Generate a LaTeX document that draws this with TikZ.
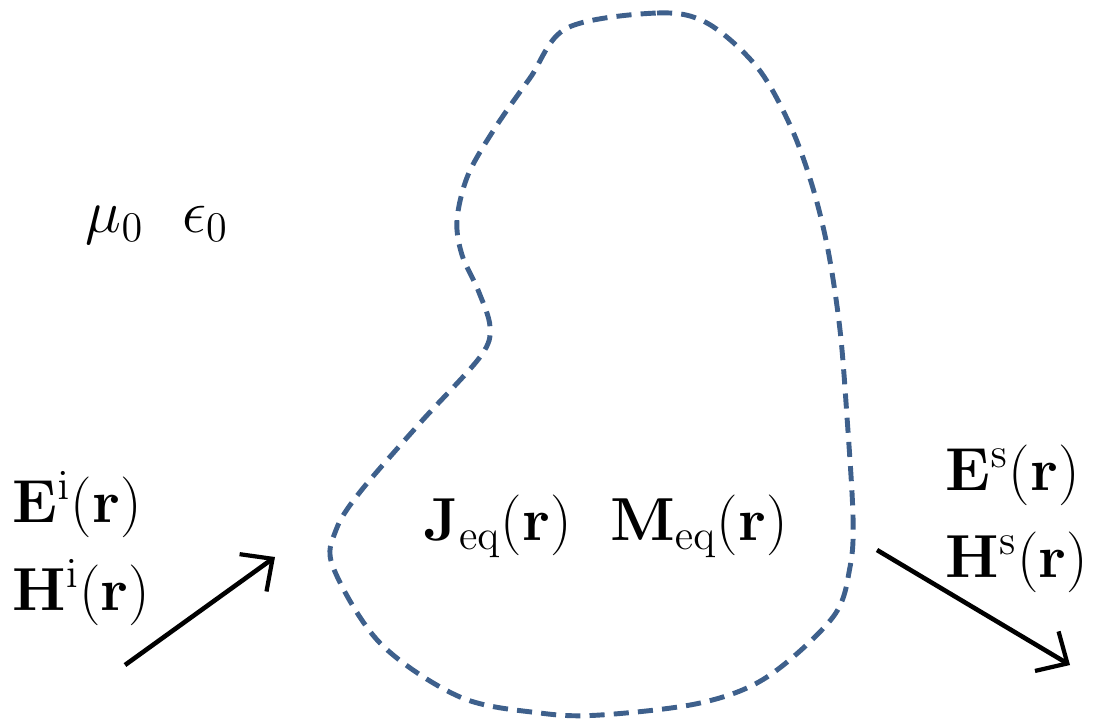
\documentclass[tikz,border=0pt]{standalone}
\usepackage{amsmath}
\usepackage{bm}
\usetikzlibrary{arrows.meta, positioning}
\definecolor{surfblue}{RGB}{62,96,140}
\tikzset{
  surface/.style={draw=surfblue, line width=1.4pt, dash pattern=on 4.3pt off 2.6pt},
  field/.style={inner sep=0pt, anchor=base west, font=\fontsize{18}{21}\selectfont},
  wave/.style={-{Straight Barb[length=2.4mm, width=4.6mm, line width=1.2pt]}, line width=1.3pt, black}
}
\begin{document}
\begin{tikzpicture}[x=0.01cm, y=-0.01cm]
  \useasboundingbox (0,0) rectangle (1110,720);

  % scatterer boundary
  \draw[surface] plot[smooth cycle, tension=0.55] coordinates {
    (567,28) (657,13) (707,23) (757,67) (790,125) (812,185)
    (828,250) (840,330) (847,417) (853,517) (850,567) (833,617) (767,677)
    (700,703) (600,715) (540,713) (460,697) (380,643) (333,567) (336,530)
    (360,492) (420,423) (480,357) (490,327) (478,290) (462,255) (457,220)
    (468,175) (495,128) (530,78)};

  % labels
  \node[field] (medium) at (85,232) {$\mu_0\ \ \epsilon_0$};
  \node[field] (einc) at (12,522) {$\mathbf{E}^{\mathrm{i}}(\mathbf{r})$};
  \node[field] (hinc) at (12,610) {$\mathbf{H}^{\mathrm{i}}(\mathbf{r})$};
  \node[field] (esca) at (945,490) {$\mathbf{E}^{\mathrm{s}}(\mathbf{r})$};
  \node[field] (hsca) at (945,577) {$\mathbf{H}^{\mathrm{s}}(\mathbf{r})$};
  \node[field] (srcs) at (423,540) {$\mathbf{J}_{\mathrm{eq}}(\mathbf{r})\ \ \mathbf{M}_{\mathrm{eq}}(\mathbf{r})$};

  % incident and scattered waves
  \coordinate (incA) at (125,665);
  \coordinate (incB) at (275,557);
  \coordinate (scaA) at (877,550);
  \coordinate (scaB) at (1070,665);
  \draw[wave] (incA) -- (incB);
  \draw[wave] (scaA) -- (scaB);
\end{tikzpicture}
\end{document}
